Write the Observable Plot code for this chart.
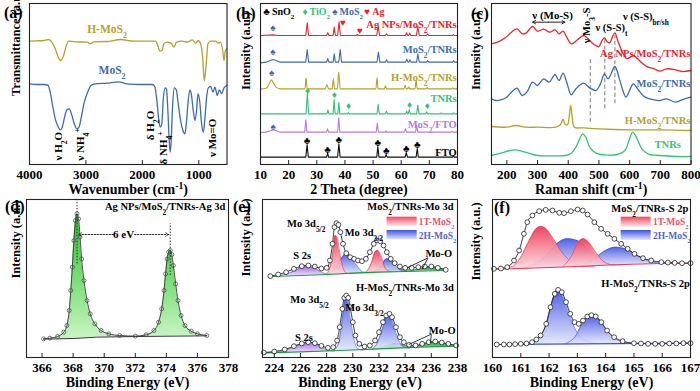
<!DOCTYPE html>
<html><head><meta charset="utf-8">
<script src="https://cdn.jsdelivr.net/npm/d3@7"></script>
<script src="https://cdn.jsdelivr.net/npm/@observablehq/plot@0.6"></script>
<style>
body{margin:0;background:#fff}
#fig{position:relative;width:700px;height:391px;background:#fff;overflow:hidden;font-family:"Liberation Serif","Times New Roman",serif;font-weight:bold}
.lab{position:absolute;font-size:16px;line-height:1;color:#000}
</style></head><body><div id="fig"></div>
<script>
// ================= DATA =================
// (a) FTIR: [wavenumber cm-1, transmittance a.u.]
const ftirHMoS2 = [[4000,370],[3870,371],[3751,372],[3662,375],[3603,367],[3544,347],[3485,320],[3443,312],[3396,327],[3348,357],[3307,370],[3159,368],[2981,367],[2922,362],[2863,368],[2626,369],[2389,375],[2152,370],[1915,370],[1767,370],[1726,357],[1690,340],[1649,342],[1619,362],[1560,367],[1489,364],[1441,352],[1394,367],[1293,370],[1204,367],[1116,374],[1056,364],[1015,372],[967,362],[932,322],[902,252],[873,292],[837,362],[790,370],[701,370],[660,364],[612,367],[577,342],[553,312],[529,342],[500,347]];
const ftirMoS2 = [[4000,242],[3870,240],[3751,240],[3674,238],[3633,217],[3585,172],[3544,137],[3502,117],[3455,104],[3420,112],[3378,142],[3337,164],[3295,167],[3248,147],[3206,122],[3159,107],[3123,112],[3082,142],[3029,187],[2969,217],[2910,237],[2833,242],[2626,244],[2419,248],[2271,242],[2034,240],[1826,240],[1779,234],[1749,202],[1714,142],[1684,112],[1655,122],[1631,192],[1595,230],[1572,227],[1548,162],[1524,72],[1506,37],[1489,72],[1465,172],[1435,230],[1400,224],[1364,182],[1323,132],[1281,102],[1246,92],[1216,132],[1187,192],[1157,224],[1133,212],[1098,162],[1068,132],[1039,162],[1015,212],[985,192],[950,122],[920,97],[890,142],[861,202],[831,230],[790,234],[748,217],[713,232],[671,207],[636,224],[594,212],[553,230],[500,237]];
const ftirTicks = [4000,3000,2000,1000];

// (b) XRD: [2theta, intensity a.u.]
const xrdAg = [[10,387],[13,388],[14.4,389],[16,387],[26.1,387],[26.6,425],[27.1,387],[33.5,387],[33.9,395],[34.3,387],[35.8,387],[36.2,412],[36.6,387],[37.4,387],[37.9,427],[38.4,387],[44,387],[44.4,390],[44.8,387],[51.3,387],[51.8,417],[52.3,387],[54.4,387],[54.8,392],[55.2,387],[61.5,387],[61.9,395],[62.3,387],[62.6,387],[63,394],[63.4,387],[65.4,387],[65.9,414],[66.4,387],[69,387],[69.4,391],[69.8,387],[78.2,387],[78.5,390],[78.8,387],[80,387]];
const xrdMT = [[10,305],[12,307],[13.5,312],[14.5,315],[15.5,312],[17,307],[26.1,307],[26.6,345],[27.1,307],[33.5,307],[33.9,318],[34.3,307],[35.8,307],[36.2,332],[36.6,307],[37.8,307],[38.3,345],[38.8,307],[51.4,307],[51.9,337],[52.4,307],[54.4,307],[54.8,314],[55.2,307],[61.6,307],[62,316],[62.4,307],[62.7,307],[63.1,314],[63.5,307],[65.5,307],[65.9,332],[66.4,307],[69,307],[69.4,312],[69.8,307],[78.3,307],[78.6,311],[79,307],[80,307]];
const xrdHMT = [[10,226],[12,229],[13,240],[13.8,254],[14.6,245],[15.5,232],[17,227],[25.8,227],[26.2,260],[26.6,227],[33,227],[33.6,240],[34.2,227],[35.5,227],[35.9,257],[36.3,227],[37.3,227],[37.8,277],[38.3,227],[51,227],[51.4,260],[51.8,227],[54,227],[54.4,236],[54.8,227],[61,227],[61.4,238],[61.8,227],[62.3,227],[62.6,232],[63,227],[64.9,227],[65.3,252],[65.7,227],[68.8,227],[69.2,231],[69.6,227],[78,227],[78.3,230],[78.6,227],[80,227]];
const xrdTNR = [[10,152],[26.2,152],[26.65,214],[27.1,152],[33.6,152],[33.95,164],[34.3,152],[35.8,152],[36.15,195],[36.5,152],[37.5,152],[37.85,185],[38.2,152],[40.9,152],[41.2,156],[41.5,152],[51.4,152],[51.8,180],[52.2,152],[54.4,152],[54.75,160],[55.1,152],[61.6,152],[61.95,160],[62.3,152],[62.5,152],[62.85,165],[63.2,152],[65.5,152],[65.9,178],[66.3,152],[68.7,152],[69.05,158],[69.4,152],[73.9,152],[74.2,155],[74.5,152],[78.2,152],[78.5,155],[78.8,152],[80,152]];
const xrdMF = [[10,96],[12,97],[13.5,101],[14.5,104],[15.5,101],[17,97],[25.7,97],[26.1,134],[26.5,97],[33.4,97],[33.8,107],[34.2,97],[37.4,97],[37.8,140],[38.2,97],[51.1,97],[51.5,124],[51.9,97],[54.2,97],[54.5,101],[54.8,97],[61.1,97],[61.5,107],[61.9,97],[65.1,97],[65.5,117],[65.9,97],[77.8,97],[78.1,99],[78.4,97],[80,97]];
const xrdFTO = [[10,22],[26.1,22],[26.55,60],[27,22],[33.5,22],[33.85,34],[34.2,22],[37.4,22],[37.85,62],[38.3,22],[51.3,22],[51.7,54],[52.1,22],[54.3,22],[54.65,30],[55,22],[61.4,22],[61.8,36],[62.2,22],[65.3,22],[65.7,48],[66.1,22],[78.2,22],[78.5,26],[78.8,22],[80,22]];
const markSnO2 = [[26.55,72],[33.85,45],[37.85,75],[51.7,66],[54.65,42],[61.8,48],[65.7,60]];
const markTiO2 = [[26.7,221],[36.2,208],[41.3,176],[62.95,178],[69.3,176]];
const markMoS2 = [[14.4,410],[14.4,337],[14.0,274],[14.5,114]];
const markAg = [[39.3,424],[45.3,400]];
const xrdTicks = [10,20,30,40,50,60,70,80];

// (c) Raman: [shift cm-1, intensity a.u.]
const ramAg = [[150,362],[170,367],[195,380],[215,397],[233,407],[250,392],[262,394],[284,414],[300,400],[320,406],[340,397],[357,404],[370,392],[383,400],[395,382],[410,362],[430,374],[450,387],[465,377],[475,367],[490,357],[500,354],[510,372],[518,380],[527,368],[535,365],[545,385],[552,395],[562,370],[575,340],[590,318],[603,322],[612,327],[625,318],[640,305],[660,292],[680,287],[700,280],[720,287],[750,284],[770,279],[800,282]];
const ramMT = [[150,197],[165,192],[180,194],[200,202],[215,217],[233,229],[250,207],[265,217],[284,247],[300,237],[320,257],[338,247],[357,270],[370,252],[383,274],[395,247],[410,209],[425,227],[450,244],[470,230],[490,222],[505,242],[518,272],[530,257],[552,294],[565,262],[578,222],[588,202],[600,222],[612,242],[630,222],[650,202],[680,194],[700,192],[720,197],[750,187],[770,194],[800,202]];
const ramHMT = [[150,114],[200,112],[230,117],[260,112],[300,112],[360,112],[375,120],[383,136],[390,120],[398,120],[403,142],[408,177],[413,142],[420,112],[450,110],[500,107],[600,104],[700,104],[800,102]];
const ramTNR = [[150,27],[180,34],[210,42],[230,44],[260,37],[300,27],[350,26],[390,27],[410,34],[425,52],[437,77],[447,92],[457,82],[470,52],[490,34],[520,29],[560,30],[585,42],[598,72],[610,97],[622,82],[640,47],[660,32],[700,27],[750,24],[800,24]];
const ramDash = [[472,127,322],[519,167,382],[552,182,387]];
const ramTicks = [200,300,400,500,600,700,800];

// (d) XPS Ag 3d: [binding energy eV, intensity a.u.]
const agEnv = [[366.1,56],[366.5,58],[367,63],[367.4,76],[367.6,96],[367.75,141],[367.85,201],[367.95,271],[368.05,351],[368.15,411],[368.25,431],[368.35,416],[368.45,361],[368.55,296],[368.7,231],[368.9,171],[369.1,131],[369.4,101],[369.8,81],[370.3,71],[371,66],[372,64],[372.7,68],[373.2,81],[373.5,106],[373.7,146],[373.85,201],[373.95,251],[374.05,296],[374.15,316],[374.25,321],[374.35,309],[374.45,276],[374.6,221],[374.75,171],[374.95,126],[375.2,96],[375.6,79],[376,71],[376.6,66]];
const agBase = [[366.1,55],[368,57],[369.5,61],[372,63],[376.6,65]];
const agTicks = [366,368,370,372,374,376,378];

// (e) XPS Mo 3d
const moBaseU = [[223.7,243],[226,246],[228,249],[230,253],[232,256],[234,258],[237.1,261]];
const moS2sU = [[223.7,243],[224.8,249],[225.6,261],[226.4,275],[227.2,265],[227.8,253],[228.4,249]];
const mo1T52 = [[228.0,251],[228.3,276],[228.5,321],[228.65,366],[228.8,361],[229.0,316],[229.2,276],[229.5,253]];
const mo2H52U = [[228.1,251],[228.7,269],[229.1,296],[229.5,311],[229.9,301],[230.3,276],[230.8,256],[231.2,254]];
const mo1T32 = [[231.0,255],[231.4,281],[231.7,316],[231.9,321],[232.2,301],[232.5,266],[232.9,257]];
const mo2H32U = [[231.5,255],[232.1,271],[232.6,296],[233.0,289],[233.5,266],[234.0,258]];
const moMoOU = [[229.5,253],[231.5,257],[232.5,262],[233.3,267],[234.0,264],[234.6,262],[235.4,269],[236.2,271],[237.1,263]];
const moEnvU = [[223.7,244],[224.3,249],[224.9,256],[225.5,266],[226.1,274],[226.6,276],[227.1,273],[227.6,267],[228.0,269],[228.25,291],[228.45,341],[228.6,391],[228.75,403],[228.9,398],[229.05,376],[229.25,341],[229.5,313],[229.8,301],[230.1,296],[230.4,291],[230.7,289],[231.0,296],[231.3,316],[231.6,341],[231.85,351],[232.1,349],[232.35,336],[232.6,316],[232.9,296],[233.2,283],[233.6,273],[234.0,269],[234.5,269],[235.0,271],[235.5,273],[236.0,273],[236.5,269],[237.1,263]];
const moBaseL = [[223.2,14],[226,17],[229,21],[232,26],[235,31],[238,34]];
const moS2sL = [[223.2,14],[224.5,18],[225.5,31],[226.5,46],[227.3,39],[228,23],[228.6,19]];
const mo2H52L = [[228.5,21],[228.9,41],[229.15,101],[229.35,161],[229.45,183],[229.6,176],[229.8,121],[230.05,61],[230.4,26],[230.8,22]];
const mo2H32L = [[231.5,25],[231.9,46],[232.3,91],[232.6,127],[232.8,129],[233.05,106],[233.4,61],[233.9,31],[234.3,28]];
const moMoOL = [[231.5,25],[232.5,33],[233.3,43],[234.1,35],[234.7,33],[235.5,41],[236.2,46],[237.0,42],[238,35]];
const moEnvL = [[223.2,15],[224,18],[224.8,24],[225.5,34],[226.1,42],[226.6,46],[227.1,43],[227.6,35],[228.1,29],[228.5,31],[228.8,51],[229.0,91],[229.2,146],[229.35,179],[229.5,186],[229.65,179],[229.8,151],[230.0,106],[230.2,66],[230.5,41],[230.9,33],[231.3,36],[231.7,51],[232.0,76],[232.3,106],[232.55,126],[232.8,131],[233.0,121],[233.3,91],[233.6,61],[233.9,46],[234.3,38],[234.8,36],[235.3,41],[235.8,46],[236.3,48],[236.8,45],[237.3,41],[237.9,36]];
const moTicks = [224,226,228,230,232,234,236,238];

// (f) XPS S 2p
const sBaseU = [[160.05,265],[161,267],[162,270],[163,273],[164,277],[165,280],[166,282],[167,283]];
const s1Ta = [[160.2,266],[160.7,273],[161.0,301],[161.3,351],[161.55,386],[161.7,393],[161.9,386],[162.15,356],[162.45,316],[162.8,286],[163.2,273],[163.6,272]];
const s1Tb = [[162.5,273],[162.8,306],[163.0,341],[163.2,356],[163.4,346],[163.65,316],[163.95,286],[164.3,277]];
const s2HaU = [[161.0,268],[161.6,286],[162.0,316],[162.35,346],[162.65,356],[163.0,351],[163.4,326],[163.8,296],[164.2,279],[164.6,278]];
const s2HbU = [[163.2,274],[163.6,296],[164.0,321],[164.35,331],[164.7,326],[165.1,306],[165.6,288],[166.1,282]];
const sEnvU = [[160.05,266],[160.3,267],[160.52,271],[160.76,291],[160.94,321],[161.11,371],[161.23,406],[161.41,426],[161.65,439],[161.88,443],[162.12,441],[162.36,434],[162.53,433],[162.77,439],[163.01,444],[163.19,441],[163.36,429],[163.6,406],[163.84,386],[164.07,371],[164.31,356],[164.55,341],[164.78,326],[165.02,311],[165.32,298],[165.61,291],[165.97,286],[166.2,285],[166.44,284],[166.7,283],[167.0,283]];
const sBaseL = [[160.15,39],[167,43]];
const s2HaL = [[161.2,41],[161.6,56],[161.9,101],[162.1,166],[162.3,203],[162.5,181],[162.7,131],[162.95,81],[163.3,51],[163.7,42]];
const s2HbL = [[162.6,42],[162.95,66],[163.2,106],[163.48,126],[163.75,116],[164.0,86],[164.35,56],[164.8,43]];
const sEnvL = [[160.15,39],[160.4,39],[160.6,39],[160.8,40],[161.0,41],[161.2,42],[161.4,46],[161.55,54],[161.7,66],[161.9,101],[162.05,151],[162.2,191],[162.32,203],[162.45,196],[162.6,166],[162.75,131],[162.9,106],[163.05,101],[163.2,111],[163.35,123],[163.5,127],[163.65,123],[163.85,106],[164.05,81],[164.3,61],[164.6,49],[165.0,43],[165.25,42],[165.5,41],[165.75,41],[166,41],[166.25,42],[166.5,42],[166.75,43],[167,43]];
const sTicks = [160,161,162,163,164,165,166,167];

// ================= RENDER =================
const FONT = '"Liberation Serif","Times New Roman",serif';
const C = {olive:"#b3a22a", blue:"#3d6bb0", red:"#e8242c", green:"#35c27a", violet:"#b27ae6", black:"#111", t1:"#f0506a", h2:"#4f63de"};
const X = d => d[0], Y = d => d[1];
const NS = "http://www.w3.org/2000/svg";
const fig = document.getElementById("fig");

function richify(svg){
  svg.querySelectorAll("text").forEach(t=>{
    const targets = t.querySelector("tspan") ? [...t.querySelectorAll("tspan")] : [t];
    targets.forEach(el=>{
      const s = el.textContent;
      if(!/[_^]\{/.test(s)) return;
      while(el.firstChild) el.removeChild(el.firstChild);
      const re=/([_^])\{([^}]*)\}/g; let last=0, m;
      const add=(txt,kind)=>{const ts=document.createElementNS(NS,"tspan"); ts.textContent=txt;
        if(kind){ts.setAttribute("font-size","70%"); ts.setAttribute("baseline-shift", kind==="_"?"sub":"super");}
        el.appendChild(ts);};
      while((m=re.exec(s))){ if(m.index>last) add(s.slice(last,m.index)); add(m[2],m[1]); last=re.lastIndex; }
      if(last<s.length) add(s.slice(last));
    });
  });
}
function addDefs(svg, grads){
  const defs=document.createElementNS(NS,"defs");
  for(const [id,c1,c2,o1=1,o2=1] of grads){
    const g=document.createElementNS(NS,"linearGradient");
    g.setAttribute("id",id); g.setAttribute("x1","0"); g.setAttribute("y1","0"); g.setAttribute("x2","0"); g.setAttribute("y2","1");
    [[0,c1,o1],[1,c2,o2]].forEach(([off,c,o])=>{const s=document.createElementNS(NS,"stop"); s.setAttribute("offset",off); s.setAttribute("stop-color",c); s.setAttribute("stop-opacity",o); g.appendChild(s);});
    defs.appendChild(g);
  }
  svg.insertBefore(defs, svg.firstChild);
}
function T(data, opts){ return Plot.text(data, {x:X, y:Y, text:d=>d[2], fontSize:11, fontWeight:"bold", ...opts}); }

function build({L,T:top,R,B,x,y,ticks,xTitle,yTitle,yDx=-14,yDy=0,ySize=12.5,marks,grads=[]}){
  const ML=26, MR=8, MT=3, MB=34, fw=R-L, fh=B-top;
  const svg = Plot.plot({
    width: fw+ML+MR, height: fh+MT+MB,
    marginLeft:ML, marginRight:MR, marginTop:MT, marginBottom:MB,
    x:{domain:x}, y:{domain:y, axis:null},
    style:{background:"transparent", fontFamily:FONT, fontSize:"13px", fontWeight:"bold", overflow:"visible", color:"#000"},
    marks:[
      ...marks,
      Plot.frame({stroke:"#222", strokeWidth:1.1}),
      Plot.ruleX(ticks, {insetTop: fh-4, stroke:"#222", strokeWidth:1}),
      Plot.axisX({ticks, tickSize:0, tickPadding:5, label:null, tickFormat:d=>String(d), fontSize:13, fontWeight:"bold"}),
      Plot.text([xTitle], {frameAnchor:"bottom", dy:25.5, text:d=>d, fontSize:14, fontWeight:"bold", lineAnchor:"middle"}),
      Plot.text([yTitle], {frameAnchor:"left", dx:yDx, dy:yDy, rotate:-90, text:d=>d, fontSize:ySize, fontWeight:"bold", lineAnchor:"middle"})
    ]
  });
  svg.style.position="absolute"; svg.style.left=(L-ML)+"px"; svg.style.top=(top-MT)+"px"; svg.style.maxWidth="none";
  addDefs(svg, grads);
  richify(svg);
  fig.appendChild(svg);
}
const interp = arr => d3.scaleLinear().domain(arr.map(X)).range(arr.map(Y)).clamp(true);
function comp(data, baseArr, fillId, stroke){
  const b = interp(baseArr);
  return [Plot.areaY(data, {x:X, y1:d=>b(d[0]), y2:Y, fill:`url(#${fillId})`, curve:"monotone-x"}),
          Plot.line(data, {x:X, y:Y, stroke, strokeWidth:0.6, curve:"monotone-x"})];
}

// ---- (a)
build({L:29,T:3,R:226.5,B:164,x:[4000,500],y:[0,483],ticks:ftirTicks,
  xTitle:"Wavenumber (cm^{-1})", yTitle:"Transmittance (a.u.)", yDx:-14, yDy:12, ySize:12.5,
  marks:[
    Plot.line(ftirHMoS2,{x:X,y:Y,stroke:C.olive,strokeWidth:1.3,curve:"monotone-x"}),
    Plot.line(ftirMoS2,{x:X,y:Y,stroke:C.blue,strokeWidth:1.3,curve:"monotone-x"}),
    T([[2626,407,"H-MoS_{2}"]],{fill:C.olive, fontSize:11.5}),
    T([[2537,282,"MoS_{2}"]],{fill:C.blue, fontSize:11.5}),
    T([[3485,55,"ν H_{2}O"],[3100,60,"ν NH_{4}^{+}"],[1856,117,"δ H_{2}O"],[1619,50,"δ NH_{4}^{+}"],[754,80,"ν Mo=O"]],{rotate:-90, fill:"#000"})
  ]});

// ---- (b)
build({L:259.5,T:3,R:456.5,B:164,x:[10,80],y:[0,483],ticks:xrdTicks,
  xTitle:"2 Theta (degree)", yTitle:"Intensity (a.u.)", yDx:-14.5, yDy:6,
  marks:[
    Plot.line(xrdFTO,{x:X,y:Y,stroke:C.black,strokeWidth:1.1}),
    Plot.line(xrdMF,{x:X,y:Y,stroke:C.violet,strokeWidth:1.1}),
    Plot.line(xrdTNR,{x:X,y:Y,stroke:C.green,strokeWidth:1.1}),
    Plot.line(xrdHMT,{x:X,y:Y,stroke:C.olive,strokeWidth:1.1,curve:"monotone-x"}),
    Plot.line(xrdMT,{x:X,y:Y,stroke:C.blue,strokeWidth:1.1}),
    Plot.line(xrdAg,{x:X,y:Y,stroke:C.red,strokeWidth:1.1}),
    Plot.text(markSnO2,{x:X,y:Y,text:d=>"♣",fill:"#000",fontSize:10}),
    Plot.text(markTiO2,{x:X,y:Y,text:d=>"♦",fill:C.green,fontSize:10}),
    Plot.text(markMoS2,{x:X,y:Y,text:d=>"♠",fill:C.blue,fontSize:10}),
    Plot.text(markAg,{x:X,y:Y,text:d=>"♥",fill:C.red,fontSize:10}),
    T([[79.7,419,"Ag NPs/MoS_{2}/TNRs"]],{fill:C.red,textAnchor:"end",fontSize:10.5}),
    T([[79.7,344,"MoS_{2}/TNRs"]],{fill:C.blue,textAnchor:"end",fontSize:10.5}),
    T([[79.7,262,"H-MoS_{2}/TNRs"]],{fill:C.olive,textAnchor:"end",fontSize:10.5}),
    T([[79.7,197,"TNRs"]],{fill:C.green,textAnchor:"end",fontSize:10.5}),
    T([[79.7,120,"MoS_{2}/FTO"]],{fill:C.violet,textAnchor:"end",fontSize:10.5}),
    T([[79.7,37,"FTO"]],{fill:"#000",textAnchor:"end",fontSize:10.5}),
    T([[11.0,459,"♣\u2009SnO_{2}"]],{fill:"#000",textAnchor:"start",fontSize:10}),
    T([[24.9,459,"♦\u2009TiO_{2}"]],{fill:C.green,textAnchor:"start",fontSize:10}),
    T([[35.5,459,"♠\u2009MoS_{2}"]],{fill:C.blue,textAnchor:"start",fontSize:10}),
    T([[46.9,459,"♥\u2009Ag"]],{fill:C.red,textAnchor:"start",fontSize:10})
  ]});

// ---- (c)
build({L:490.5,T:3,R:690,B:164,x:[150,800],y:[0,483],ticks:ramTicks,
  xTitle:"Raman shift (cm^{-1})", yTitle:"Intensity (a.u.)", yDx:-15.5, yDy:6,
  marks:[
    Plot.ruleX(ramDash,{x:X,y1:d=>d[1],y2:d=>d[2],stroke:"#9a9a9a",strokeWidth:1.3,strokeDasharray:"4,2.5"}),
    Plot.line(ramTNR,{x:X,y:Y,stroke:C.green,strokeWidth:1.3,curve:"catmull-rom"}),
    Plot.line(ramHMT,{x:X,y:Y,stroke:C.olive,strokeWidth:1.3,curve:"catmull-rom"}),
    Plot.line(ramMT,{x:X,y:Y,stroke:C.blue,strokeWidth:1.3,curve:"catmull-rom"}),
    Plot.line(ramAg,{x:X,y:Y,stroke:C.red,strokeWidth:1.3,curve:"catmull-rom"}),
    Plot.arrow([[336,389],[336,284]],{x1:d=>d[0],x2:d=>d[1],y1:427,y2:427,stroke:"#222",strokeWidth:1,headLength:5}),
    T([[349,447,"ν (Mo-S)"]],{fill:"#000"}),
    T([[461,417,"ν Mo_{3}-S"]],{fill:"#000",rotate:-90,fontSize:10.5}),
    T([[541,412,"ν (S-S)_{t}"]],{fill:"#000",fontSize:10.5}),
    T([[653,444,"ν (S-S)_{br/sh}"]],{fill:"#000",fontSize:10.5}),
    T([[798,332,"Ag NPs/MoS_{2}/TNRs"]],{fill:C.red,textAnchor:"end",fontSize:10.5}),
    T([[798,242,"MoS_{2}/TNRs"]],{fill:C.blue,textAnchor:"end",fontSize:10.5}),
    T([[798,132,"H-MoS_{2}/TNRs"]],{fill:C.olive,textAnchor:"end",fontSize:10.5}),
    T([[767,60,"TNRs"]],{fill:C.green,textAnchor:"end",fontSize:10.5})
  ]});

// ---- (d)
{
  const b = interp(agBase);
  build({L:26,T:199,R:228,B:357,x:[365,378],y:[0,474],ticks:agTicks,
    xTitle:"Binding Energy (eV)", yTitle:"Intensity (a.u.)", yDx:-11, yDy:0,
    grads:[["d-ag","#22c422","#c9f5c4",1,1]],
    marks:[
      Plot.areaY(agEnv,{x:X,y1:d=>b(d[0]),y2:Y,fill:"url(#d-ag)",curve:"monotone-x"}),
      Plot.line(agBase,{x:X,y:Y,stroke:"#333",strokeWidth:1}),
      Plot.line(agEnv,{x:X,y:Y,stroke:"#333",strokeWidth:0.9,curve:"monotone-x"}),
      Plot.dot(agEnv,{x:X,y:Y,r:2,stroke:"#555",strokeWidth:0.8,fill:"none"}),
      Plot.ruleX([[368.25,281,471],[374.25,246,401]],{x:X,y1:d=>d[1],y2:d=>d[2],stroke:"#333",strokeWidth:1,strokeDasharray:"1.5,1.5"}),
      Plot.arrow([[370.6,368.35],[371.95,374.15]],{x1:d=>d[0],x2:d=>d[1],y1:369,y2:369,stroke:"#333",strokeWidth:1,strokeDasharray:"1.5,1.5",headLength:5}),
      T([[371.25,369,"6 eV"]],{fill:"#000"}),
      T([[377.8,453,"Ag NPs/MoS_{2}/TNRs-Ag 3d"]],{fill:"#000",textAnchor:"end",fontSize:10.5})
    ]});
}

// ---- (e)
build({L:262,T:199,R:457,B:357,x:[223.1,238],y:[0,474],ticks:moTicks,
  xTitle:"Binding Energy (eV)", yTitle:"Intensity (a.u.)", yDx:-17, yDy:-2,
  grads:[["e-pink","#ef3a56","#fcd6dd",0.95,0.9],["e-blue","#3a4fe0","#dfe3fb",0.9,0.85],["e-pur","#9558de","#ece0f9",0.95,0.9],["e-grn","#1aa845","#8fdca5",1,1],
         ["e-lpink","#f04a63","#fde4e8",1,1],["e-lblue","#3d52e2","#e2e6fb",1,1]],
  marks:[
    ...comp(moMoOU, moBaseU, "e-grn", "#1a9a40"),
    ...comp(moS2sU, moBaseU, "e-pur", "#8a55d0"),
    ...comp(mo2H52U, moBaseU, "e-blue", "#3a4fe0"),
    ...comp(mo2H32U, moBaseU, "e-blue", "#3a4fe0"),
    ...comp(mo1T52, moBaseU, "e-pink", "#e8344e"),
    ...comp(mo1T32, moBaseU, "e-pink", "#e8344e"),
    Plot.line(moBaseU,{x:X,y:Y,stroke:"#1a9a40",strokeWidth:1.2}),
    Plot.line(moEnvU,{x:X,y:Y,stroke:"#222",strokeWidth:0.9,curve:"monotone-x"}),
    Plot.dot(moEnvU,{x:X,y:Y,r:2.4,stroke:"#222",strokeWidth:0.8,fill:"white"}),
    ...comp(moMoOL, moBaseL, "e-grn", "#1a9a40"),
    ...comp(moS2sL, moBaseL, "e-pur", "#8a55d0"),
    ...comp(mo2H52L, moBaseL, "e-blue", "#3a4fe0"),
    ...comp(mo2H32L, moBaseL, "e-blue", "#3a4fe0"),
    Plot.line(moBaseL,{x:X,y:Y,stroke:"#1a9a40",strokeWidth:1.2}),
    Plot.line(moEnvL,{x:X,y:Y,stroke:"#222",strokeWidth:0.9,curve:"monotone-x"}),
    Plot.dot(moEnvL,{x:X,y:Y,r:2.4,stroke:"#222",strokeWidth:0.8,fill:"white"}),
    Plot.rect([[232.62,234.92,393,421]],{x1:d=>d[0],x2:d=>d[1],y1:d=>d[2],y2:d=>d[3],fill:"url(#e-lpink)"}),
    Plot.rect([[232.62,234.92,353,381]],{x1:d=>d[0],x2:d=>d[1],y1:d=>d[2],y2:d=>d[3],fill:"url(#e-lblue)"}),
    T([[235.04,406,"1T-MoS_{2}"]],{fill:C.t1,textAnchor:"start",fontSize:9.5}),
    T([[235.04,366,"2H-MoS_{2}"]],{fill:C.h2,textAnchor:"start",fontSize:9.5}),
    T([[237.7,453,"MoS_{2}/TNRs-Mo 3d"]],{fill:"#000",textAnchor:"end",fontSize:10.5}),
    T([[226.44,401,"Mo 3d_{5/2}"],[230.84,376,"Mo 3d_{3/2}"],[226.13,306,"S 2s"],[236.57,311,"Mo-O"]],{fill:"#000",fontSize:10.5}),
    Plot.link([[235.75,299,234.15,269],[235.75,299,235.3,265]],{x1:d=>d[0],y1:d=>d[1],x2:d=>d[2],y2:d=>d[3],stroke:"#222",strokeWidth:0.9}),
    T([[237.72,209,"H-MoS_{2}/TNRs-Mo 3d"]],{fill:"#000",textAnchor:"end",fontSize:10.5}),
    T([[226.69,173,"Mo 3d_{5/2}"],[230.89,151,"Mo 3d_{3/2}"],[226.26,61,"S 2s"],[236.83,81,"Mo-O"]],{fill:"#000",fontSize:10.5}),
    Plot.link([[236.0,70,234.28,39],[236.0,70,235.93,43]],{x1:d=>d[0],y1:d=>d[1],x2:d=>d[2],y2:d=>d[3],stroke:"#222",strokeWidth:0.9})
  ]});

// ---- (f)
build({L:492,T:199,R:690,B:357,x:[160,167],y:[0,474],ticks:sTicks,
  xTitle:"Binding Energy (eV)", yTitle:"Intensity (a.u.)", yDx:-17, yDy:2,
  grads:[["f-pink","#ef3a56","#fcd6dd",0.95,0.9],["f-blue","#3a4fe0","#dfe3fb",0.9,0.85],["f-lpink","#f04a63","#fde4e8",1,1],["f-lblue","#3d52e2","#e2e6fb",1,1]],
  marks:[
    ...comp(s2HaU, sBaseU, "f-blue", "#3a4fe0"),
    ...comp(s2HbU, sBaseU, "f-blue", "#3a4fe0"),
    ...comp(s1Ta, sBaseU, "f-pink", "#e8344e"),
    ...comp(s1Tb, sBaseU, "f-pink", "#e8344e"),
    Plot.line(sBaseU,{x:X,y:Y,stroke:"#e8344e",strokeWidth:1}),
    Plot.line(sEnvU,{x:X,y:Y,stroke:"#222",strokeWidth:0.9,curve:"monotone-x"}),
    Plot.dot(sEnvU,{x:X,y:Y,r:2.4,stroke:"#222",strokeWidth:0.8,fill:"white"}),
    ...comp(s2HaL, sBaseL, "f-blue", "#3a4fe0"),
    ...comp(s2HbL, sBaseL, "f-blue", "#3a4fe0"),
    Plot.line(sBaseL,{x:X,y:Y,stroke:"#3a4fe0",strokeWidth:1.2}),
    Plot.line(sEnvL,{x:X,y:Y,stroke:"#222",strokeWidth:0.9,curve:"monotone-x"}),
    Plot.dot(sEnvL,{x:X,y:Y,r:2.4,stroke:"#222",strokeWidth:0.8,fill:"white"}),
    Plot.rect([[164.55,165.61,391,421]],{x1:d=>d[0],x2:d=>d[1],y1:d=>d[2],y2:d=>d[3],fill:"url(#f-lpink)"}),
    Plot.rect([[164.55,165.61,351,381]],{x1:d=>d[0],x2:d=>d[1],y1:d=>d[2],y2:d=>d[3],fill:"url(#f-lblue)"}),
    T([[165.67,406,"1T-MoS_{2}"]],{fill:C.t1,textAnchor:"start",fontSize:9.5}),
    T([[165.67,366,"2H-MoS_{2}"]],{fill:C.h2,textAnchor:"start",fontSize:9.5}),
    T([[166.92,446,"MoS_{2}/TNRs-S 2p"]],{fill:"#000",textAnchor:"end",fontSize:10.5}),
    T([[166.98,221,"H-MoS_{2}/TNRs-S 2p"]],{fill:"#000",textAnchor:"end",fontSize:10.5})
  ]});

// panel letters
[["(a)",4,5],["(b)",236,6],["(c)",471,6],["(d)",5,199],["(e)",233,199],["(f)",494,200]].forEach(([t,l,tp])=>{
  const d=document.createElement("div"); d.className="lab"; d.textContent=t; d.style.left=l+"px"; d.style.top=tp+"px"; fig.appendChild(d);
});
</script></body></html>
